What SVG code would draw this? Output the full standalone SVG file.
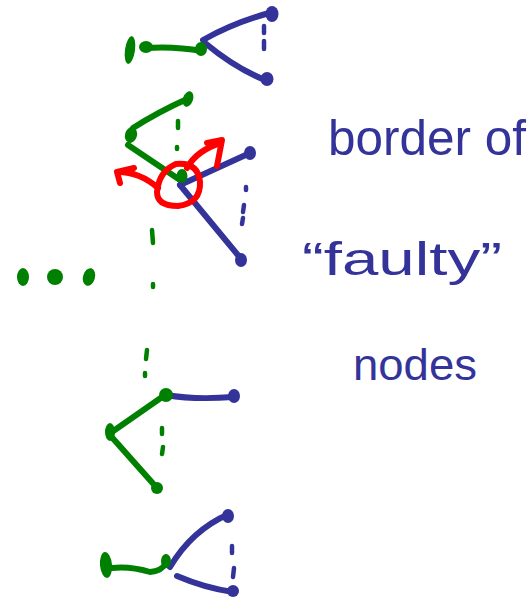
<svg xmlns="http://www.w3.org/2000/svg" width="530" height="603" viewBox="0 0 530 603">
  <style>
    .g { stroke: #008000; }
    .b { stroke: #333399; }
    .r { stroke: #ff0000; }
    .ln { fill: none; stroke-width: 6; stroke-linecap: round; stroke-linejoin: round; }
    .dash { fill: none; stroke-width: 4.5; stroke-linecap: round; }
    .gn { fill: #008000; }
    .bn { fill: #333399; }
    .note { font-family: "Liberation Sans", "DejaVu Sans", sans-serif; fill: #333399; }
  </style>

  <!-- edges and dotted "more" links -->
  <g id="connectors">
    <!-- top cluster -->
    <path class="ln g" d="M145,48 Q175,46 202,51"/>
    <path class="ln b" d="M203,40 Q235,22 273,12"/>
    <path class="ln b" d="M205,43 Q235,68 265,80"/>
    <path class="dash b" d="M264,26 L264,33 M264,41 L264,49"/>

    <!-- faulty cluster -->
    <path class="ln g" d="M187,99 Q158,112 133,128 L130,137"/>
    <path class="ln g" d="M128,145 L180,180"/>
    <path class="dash g" d="M178,121 L178,128 M177,147 L177,149"/>
    <path class="ln b" d="M180,185 L250,153"/>
    <path class="ln b" d="M180,185 L242,260"/>
    <path class="dash b" d="M246,187 L246,190 M244,205 L243,212 M243,218 L242,224"/>

    <!-- red marker: circle and arrows -->
    <path class="ln r" d="M176,164 Q198,162 200,182 Q201,203 178,206 Q157,206 157,192 Q159,171 176,164"/>
    <path class="ln r" d="M158,188 Q140,172 118,172"/>
    <path class="ln r" d="M120,183 L117,172 L134,168"/>
    <path class="ln r" d="M187,168 Q197,150 221,143"/>
    <path class="ln r" d="M207,143 L222,140 L217,166"/>

    <!-- scattered dashes -->
    <path class="dash g" d="M152,230 L153,243"/>
    <path class="dash g" d="M153,284 L153,287"/>
    <path class="dash g" d="M147,350 L146,359 M145,373 L145,376"/>

    <!-- lower cluster -->
    <path class="ln b" d="M166,395 Q195,400 233,397"/>
    <path class="ln g" d="M165,395 L109,434"/>
    <path class="ln g" d="M109,434 L157,488"/>
    <path class="dash g" d="M162,428 L162,434 M163,447 L162,454"/>

    <!-- bottom cluster -->
    <path class="ln g" d="M112,568 Q130,566 150,572 Q162,571 166,563"/>
    <path class="ln b" d="M170,567 Q192,530 229,514"/>
    <path class="ln b" d="M177,576 Q205,588 233,592"/>
    <path class="dash b" d="M232,546 L232,553 M234,568 L233,577"/>
  </g>

  <!-- nodes -->
  <g id="n-top-left"><ellipse class="gn" cx="130" cy="50" rx="5" ry="14" transform="rotate(8 130 50)"/></g>
  <g id="n-top-mid"><ellipse class="gn" cx="146" cy="47" rx="7" ry="6"/></g>
  <g id="n-top-hub"><ellipse class="gn" cx="201" cy="49" rx="6" ry="7"/></g>
  <g id="n-top-up"><ellipse class="bn" cx="272" cy="14" rx="6.5" ry="8"/></g>
  <g id="n-top-down"><ellipse class="bn" cx="267" cy="79" rx="6.5" ry="7"/></g>

  <g id="n-f-up"><ellipse class="gn" cx="188" cy="99" rx="5" ry="8" transform="rotate(20 188 99)"/></g>
  <g id="n-f-left"><ellipse class="gn" cx="131" cy="135" rx="6" ry="8" transform="rotate(15 131 135)"/></g>
  <g id="n-faulty"><ellipse class="gn" cx="182" cy="176" rx="5.5" ry="7"/></g>
  <g id="n-f-right"><ellipse class="bn" cx="250" cy="153" rx="6" ry="7"/></g>
  <g id="n-f-down"><ellipse class="bn" cx="241" cy="260" rx="6" ry="7"/></g>

  <g id="n-dot-1"><ellipse class="gn" cx="23" cy="277" rx="6" ry="9"/></g>
  <g id="n-dot-2"><ellipse class="gn" cx="55" cy="277" rx="8" ry="8"/></g>
  <g id="n-dot-3"><ellipse class="gn" cx="89" cy="277" rx="6" ry="9" transform="rotate(15 89 277)"/></g>

  <g id="n-l-hub"><ellipse class="gn" cx="166" cy="395" rx="7" ry="7"/></g>
  <g id="n-l-right"><ellipse class="bn" cx="234" cy="396" rx="6" ry="7"/></g>
  <g id="n-l-left"><ellipse class="gn" cx="110" cy="432" rx="5" ry="9"/></g>
  <g id="n-l-down"><ellipse class="gn" cx="157" cy="488" rx="6" ry="6"/></g>

  <g id="n-b-left"><ellipse class="gn" cx="106" cy="565" rx="6" ry="13" transform="rotate(-5 106 565)"/></g>
  <g id="n-b-hub"><ellipse class="gn" cx="166" cy="561" rx="5" ry="7"/></g>
  <g id="n-b-up"><ellipse class="bn" cx="228" cy="516" rx="6" ry="7"/></g>
  <g id="n-b-down"><ellipse class="bn" cx="233" cy="591" rx="6" ry="6"/></g>

  <!-- annotation -->
  <g id="label">
    <text class="note" x="328" y="155" font-size="50" textLength="198" lengthAdjust="spacingAndGlyphs">border of</text>
    <text class="note" x="302" y="275" font-size="46" textLength="200" lengthAdjust="spacingAndGlyphs">“faulty”</text>
    <text class="note" x="353" y="380" font-size="44" textLength="124" lengthAdjust="spacingAndGlyphs">nodes</text>
  </g>
</svg>
